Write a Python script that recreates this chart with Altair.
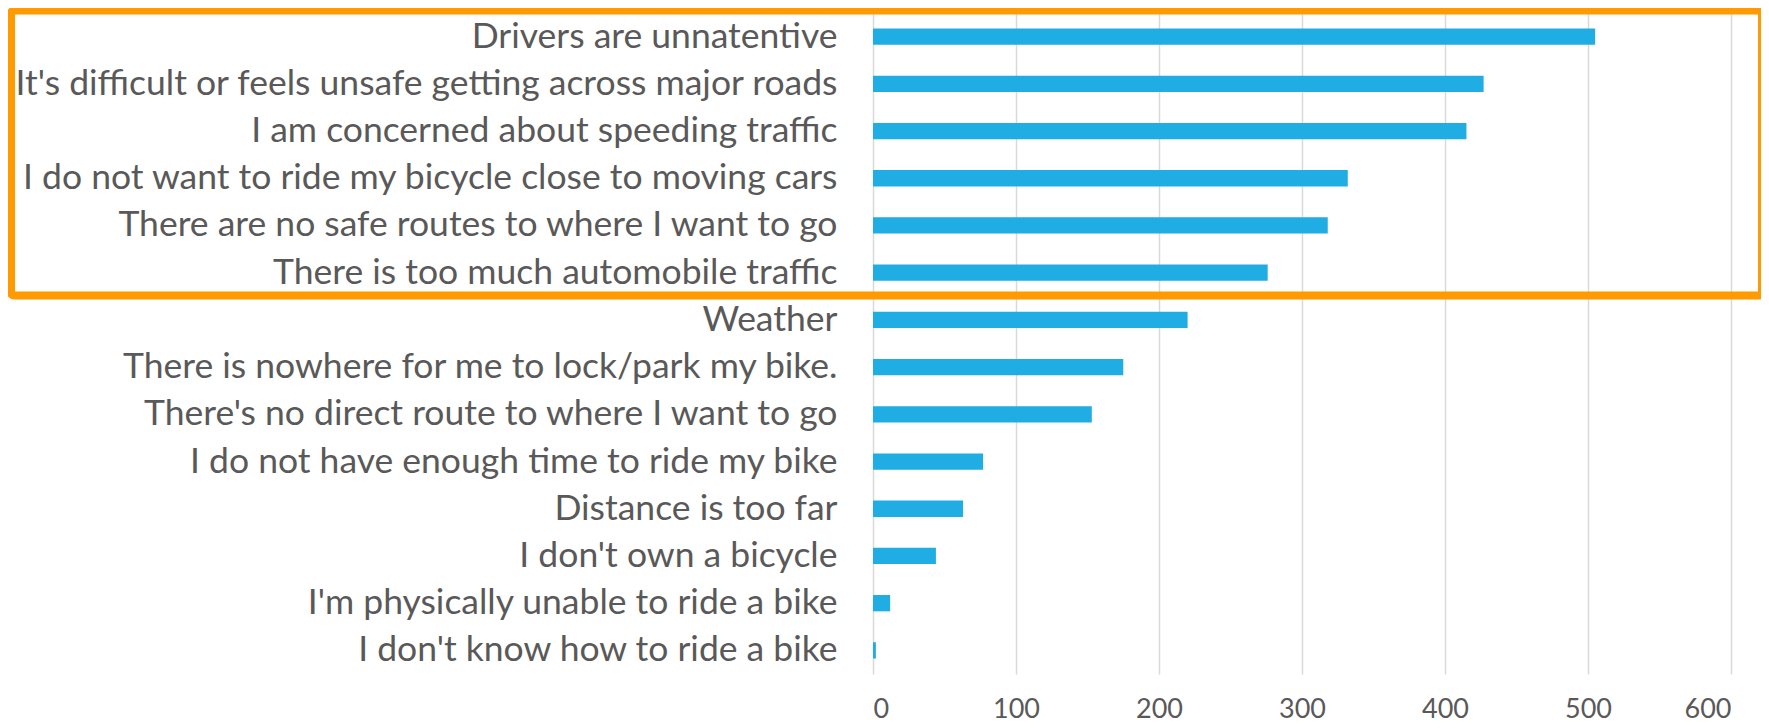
import altair as alt
import pandas as pd

categories = [
    "Drivers are unnatentive",
    "It's difficult or feels unsafe getting across major roads",
    "I am concerned about speeding traffic",
    "I do not want to ride my bicycle close to moving cars",
    "There are no safe routes to where I want to go",
    "There is too much automobile traffic",
    "Weather",
    "There is nowhere for me to lock/park my bike.",
    "There's no direct route to where I want to go",
    "I do not have enough time to ride my bike",
    "Distance is too far",
    "I don't own a bicycle",
    "I'm physically unable to ride a bike",
    "I don't know how to ride a bike",
]
counts = [505, 427, 415, 332, 318, 276, 220, 175, 153, 77, 63, 44, 12, 2]
x_ticks = [0, 100, 200, 300, 400, 500, 600]

df = pd.DataFrame({"reason": categories, "count": counts})

FONT = "Lato"
W, H = 858, 661

bars = alt.Chart(df).mark_bar(size=16.3, color="#1FADE3").encode(
    x=alt.X(
        "count:Q",
        scale=alt.Scale(domain=[0, 600], nice=False, zero=True),
        axis=alt.Axis(
            values=x_ticks, grid=True, gridColor="#D9D9D9", gridWidth=1.5,
            domain=False, ticks=False, labelFontSize=27, labelColor="#595959",
            labelFont=FONT, labelPadding=22, title=None,
        ),
    ),
    y=alt.Y(
        "reason:N",
        sort=categories,
        scale=alt.Scale(paddingInner=0, paddingOuter=0),
        axis=alt.Axis(
            title=None, domain=False, ticks=False, labelFontSize=35.5,
            labelPadding=36, labelLimit=2000, labelColor="#595959", labelFont=FONT,
        ),
    ),
)

box = alt.Chart(pd.DataFrame({"k": [0]})).mark_rect(
    filled=False, stroke="#FF9A00", strokeWidth=8, cornerRadius=3
).encode(
    x=alt.value(-862), x2=alt.value(889), y=alt.value(-2.5), y2=alt.value(282.5)
)

chart = alt.layer(bars, box).properties(
    width=W, height=H,
    autosize=alt.AutoSizeParams(type="none"),
    padding={"left": 865, "top": 5, "right": 30, "bottom": 54},
).configure_view(stroke=None)

chart.save("out.html", embed_options={"renderer": "svg", "actions": False})
